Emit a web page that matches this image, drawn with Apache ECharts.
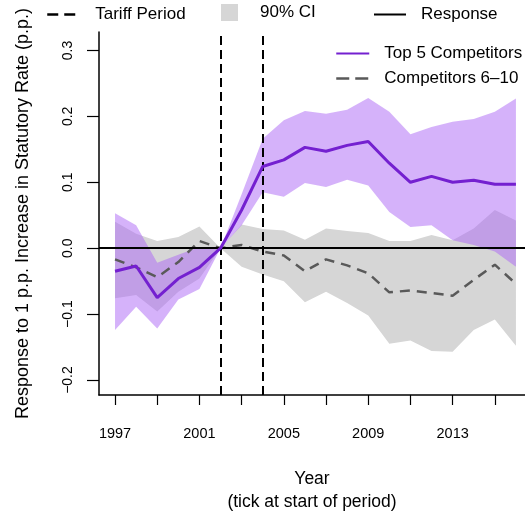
<!DOCTYPE html>
<html>
<head>
<meta charset="utf-8">
<script src="https://cdn.jsdelivr.net/npm/echarts@6/dist/echarts.min.js"></script>
<style>
  html, body { margin: 0; padding: 0; background: #fff; }
  #chart { width: 525px; height: 514px; }
</style>
</head>
<body>
<div id="chart"></div>
<script>
// years (tick at start of period)
var years = [1997, 1998, 1999, 2000, 2001, 2002, 2003, 2004, 2005, 2006,
             2007, 2008, 2009, 2010, 2011, 2012, 2013, 2014, 2015, 2016]

// top 5 competitors: response and 90% CI
var top5 = [-0.035, -0.027, -0.075, -0.046, -0.029, 0.000, 0.058, 0.124, 0.134, 0.153,
            0.147, 0.156, 0.162, 0.129, 0.100, 0.109, 0.100, 0.103, 0.097, 0.097]
var top5Lo = [-0.124, -0.089, -0.122, -0.078, -0.062, 0.000, 0.035, 0.085, 0.078, 0.099,
              0.093, 0.104, 0.095, 0.055, 0.032, 0.035, 0.012, 0.005, -0.005, -0.028]
var top5Hi = [0.053, 0.035, -0.022, -0.010, 0.002, 0.000, 0.082, 0.166, 0.194, 0.208,
              0.204, 0.210, 0.228, 0.207, 0.173, 0.184, 0.192, 0.196, 0.207, 0.227]

// competitors 6-10: response and 90% CI
var comp = [-0.017, -0.029, -0.044, -0.021, 0.011, 0.000, 0.005, -0.005, -0.011, -0.035,
            -0.017, -0.026, -0.038, -0.067, -0.064, -0.068, -0.072, -0.048, -0.025, -0.054]
var compLo = [-0.076, -0.071, -0.096, -0.066, -0.046, 0.000, -0.028, -0.040, -0.050, -0.082,
              -0.066, -0.083, -0.102, -0.145, -0.140, -0.156, -0.157, -0.124, -0.108, -0.148]
var compHi = [0.040, 0.022, 0.011, 0.017, 0.033, 0.000, 0.036, 0.029, 0.027, 0.013,
              0.030, 0.026, 0.023, 0.011, 0.011, 0.020, 0.012, 0.030, 0.058, 0.042]

// tariff period boundaries
var tariffYears = [2002, 2004]

// axis ticks and labels
var xTicks = [1997, 1999, 2001, 2003, 2005, 2007, 2009, 2011, 2013, 2015]
var xLabels = [1997, 2001, 2005, 2009, 2013]
var yTicks = [-0.2, -0.1, 0, 0.1, 0.2, 0.3]

var font = "'Liberation Sans', Arial, sans-serif"

function pairs(ys) {
  return years.map(function (x, i) { return [x, ys[i]] })
}

// polygon between lower and upper bound, drawn once
function bandRenderer(lo, hi, color) {
  return function (params, api) {
    if (params.dataIndex !== 0) return
    var pts = []
    for (var i = 0; i < years.length; i++) pts.push(api.coord([years[i], hi[i]]))
    for (var j = years.length - 1; j >= 0; j--) pts.push(api.coord([years[j], lo[j]]))
    return { type: 'polygon', shape: { points: pts }, style: { fill: color } }
  }
}

var chart = echarts.init(document.getElementById('chart'), null, { renderer: 'canvas' })

var option = {
  animation: false,
  textStyle: { fontFamily: font, color: '#000' },
  grid: { left: 99, right: 0, top: 32, bottom: 119, containLabel: false, outerBoundsMode: 'none' },
  xAxis: {
    type: 'value',
    min: 1996.24,
    max: 2016.43,
    name: 'Year\n(tick at start of period)',
    nameLocation: 'middle',
    nameGap: 73,
    nameTextStyle: { fontSize: 17.5, lineHeight: 23, color: '#000' },
    axisLine: { show: true, onZero: false, lineStyle: { color: '#000', width: 1.5 } },
    axisTick: { show: true, inside: false, length: 10, customValues: xTicks, lineStyle: { color: '#000', width: 1.2 } },
    axisLabel: { customValues: xLabels, margin: 31, fontSize: 14.5, color: '#000', formatter: function (v) { return String(v) } },
    splitLine: { show: false }
  },
  yAxis: {
    type: 'value',
    min: -0.2227,
    max: 0.328,
    name: 'Response to 1 p.p. Increase in Statutory Rate (p.p.)',
    nameLocation: 'middle',
    nameGap: 67,
    nameTextStyle: { fontSize: 18, color: '#000' },
    axisLine: { show: true, onZero: false, lineStyle: { color: '#000', width: 1.5 } },
    axisTick: { show: true, inside: false, length: 12, customValues: yTicks, lineStyle: { color: '#000', width: 1.2 } },
    axisLabel: {
      customValues: yTicks, rotate: 90, margin: 24, fontSize: 14, color: '#000',
      formatter: function (v) { return v.toFixed(1).replace('-', '\u2212') }
    },
    splitLine: { show: false }
  },
  legend: [
    {
      left: 46, top: 6, padding: 0, itemWidth: 29, itemHeight: 14, selectedMode: false,
      itemStyle: { opacity: 0 },
      textStyle: { fontSize: 17, color: '#000', padding: [0, 0, 0, 14] },
      data: [{ name: 'Tariff Period', lineStyle: { type: [11, 6], width: 2.5, color: '#000' } }]
    },
    {
      left: 221, top: 4, padding: 0, itemWidth: 17, itemHeight: 17, selectedMode: false,
      textStyle: { fontSize: 17, color: '#000', padding: [0, 0, 0, 17] },
      data: [{ name: '90% CI', icon: 'rect', itemStyle: { color: '#d6d6d6' } }]
    },
    {
      left: 373, top: 6, padding: 0, itemWidth: 32, itemHeight: 14, selectedMode: false,
      itemStyle: { opacity: 0 },
      textStyle: { fontSize: 17, color: '#000', padding: [0, 0, 0, 10] },
      data: ['Response']
    },
    {
      left: 335, top: 45, padding: 0, orient: 'vertical', itemWidth: 33, itemHeight: 14, itemGap: 8,
      selectedMode: false,
      itemStyle: { opacity: 0 },
      textStyle: { fontSize: 17, color: '#000', padding: [0, 0, 0, 10] },
      data: [
        'Top 5 Competitors',
        { name: 'Competitors 6\u201310', lineStyle: { type: [13, 6], width: 2.5, color: '#595959' } }
      ]
    }
  ],
  series: [
    {
      name: 'Competitors 6\u201310 CI',
      type: 'custom',
      silent: true,
      z: 1,
      renderItem: bandRenderer(compLo, compHi, '#d6d6d6'),
      data: [[years[0], 0]]
    },
    {
      name: 'Top 5 Competitors CI',
      type: 'custom',
      silent: true,
      z: 2,
      renderItem: bandRenderer(top5Lo, top5Hi, 'rgba(171, 102, 245, 0.5)'),
      data: [[years[0], 0]]
    },
    {
      name: 'Competitors 6\u201310',
      type: 'line',
      z: 4,
      symbol: 'none',
      lineStyle: { color: '#595959', width: 2.5, type: [10, 7] },
      itemStyle: { color: '#595959' },
      data: pairs(comp)
    },
    {
      name: 'Top 5 Competitors',
      type: 'line',
      z: 5,
      symbol: 'none',
      lineStyle: { color: '#7420d0', width: 3 },
      itemStyle: { color: '#7420d0' },
      data: pairs(top5)
    },
    {
      // legend entry + vertical tariff lines and zero line
      name: 'Tariff Period',
      type: 'line',
      z: 6,
      symbol: 'none',
      lineStyle: { color: '#000', width: 2.5, type: [11, 6] },
      itemStyle: { color: '#000' },
      data: [[tariffYears[0], 0]],
      markLine: {
        silent: true,
        symbol: ['none', 'none'],
        label: { show: false },
        lineStyle: { color: '#000', width: 2, type: [9, 5] },
        data: tariffYears.map(function (y) { return { xAxis: y } }).concat([
          { yAxis: 0, lineStyle: { type: 'solid', width: 2, color: '#000' } }
        ])
      }
    },
    {
      name: '90% CI',
      type: 'line',
      symbol: 'none',
      itemStyle: { color: '#d6d6d6' },
      lineStyle: { color: '#d6d6d6' },
      data: []
    },
    {
      name: 'Response',
      type: 'line',
      symbol: 'none',
      lineStyle: { color: '#000', width: 2.5 },
      itemStyle: { color: '#000' },
      data: []
    }
  ]
}

chart.setOption(option)
</script>
</body>
</html>
